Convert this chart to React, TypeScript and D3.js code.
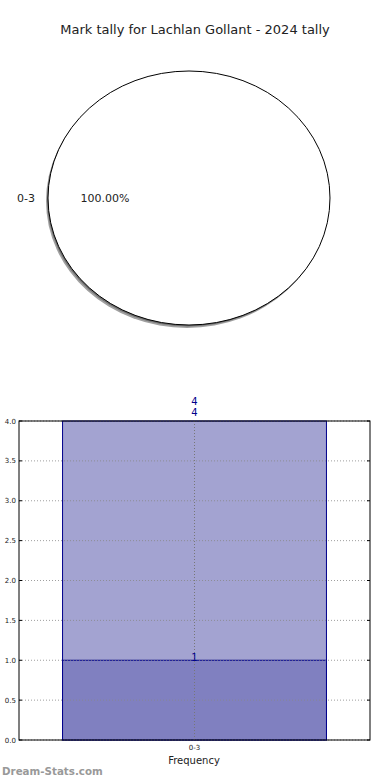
import React from "react";
import * as d3 from "d3";

const title = "Mark tally for Lachlan Gollant - 2024 tally";
const pieLabels = ["0-3"];
const pieValues = [4];
const categories = ["0-3"];
const totalValues = [4];
const innerValues = [1];
const yTicks = [0, 0.5, 1, 1.5, 2, 2.5, 3, 3.5, 4];

const W = 390, H = 780;
const FONT = "DejaVu Sans, sans-serif";

export default function App() {
  const cx = 189, cy = 198, rx = 141, ry = 127;
  const pie = d3.pie<number>().sort(null).startAngle(Math.PI / 2).endAngle(Math.PI / 2 + 2 * Math.PI)(pieValues);
  const arc = d3.arc<d3.PieArcDatum<number>>().innerRadius(0).outerRadius(1);
  const total = d3.sum(pieValues);

  const left = 19, right = 370, top = 421, bottom = 740;
  const y = d3.scaleLinear().domain([0, 4]).range([bottom, top]);
  const x = d3.scaleBand().domain(categories).range([left, right]).paddingInner(0).paddingOuter(0.165);
  const bw = x.bandwidth();

  return (
    <svg width={W} height={H} style={{ position: "absolute", left: 0, top: 0 }} fontFamily={FONT}>
      <rect width={W} height={H} fill="#fff" />
      <text x={195} y={34} textAnchor="middle" fontSize={13} fill="#222">{title}</text>

      {pie.map((d, i) => (
        <g key={"s" + i} transform={`translate(${cx - 2},${cy + 3}) scale(${rx},${ry})`}>
          <path d={arc(d) || ""} fill="#a0a0a0" />
        </g>
      ))}
      {pie.map((d, i) => (
        <g key={"s2" + i} transform={`translate(${cx - 1},${cy + 1.5}) scale(${rx},${ry})`}>
          <path d={arc(d) || ""} fill="#707070" />
        </g>
      ))}
      {pie.map((d, i) => (
        <g key={"p" + i} transform={`translate(${cx},${cy}) scale(${rx},${ry})`}>
          <path d={arc(d) || ""} fill="#fff" stroke="#000" strokeWidth={1} vectorEffect="non-scaling-stroke" />
        </g>
      ))}
      {pie.map((d, i) => (
        <g key={"l" + i}>
          <text x={35} y={202} textAnchor="end" fontSize={11} fill="#222">{pieLabels[i]}</text>
          <text x={105} y={202} textAnchor="middle" fontSize={11} fill="#222">{((d.value / total) * 100).toFixed(2)}%</text>
        </g>
      ))}

      {categories.map((c, i) => (
        <g key={"b" + i}>
          <rect x={x(c)!} y={y(totalValues[i])} width={bw} height={y(0) - y(totalValues[i])} fill="#a3a3d1" stroke="#00008b" strokeWidth={1} />
          <rect x={x(c)!} y={y(innerValues[i])} width={bw} height={y(0) - y(innerValues[i])} fill="#8080c0" stroke="#00008b" strokeWidth={1} />
        </g>
      ))}
      {yTicks.map((t) => (
        <line key={"g" + t} x1={left} x2={right} y1={y(t)} y2={y(t)} stroke="#888" strokeDasharray="1,2" strokeWidth={1} opacity={0.8} />
      ))}
      {categories.map((c) => (
        <line key={"vg" + c} x1={x(c)! + bw / 2} x2={x(c)! + bw / 2} y1={top} y2={bottom} stroke="#777" strokeDasharray="1,2" strokeWidth={1} />
      ))}
      <rect x={left} y={top} width={right - left} height={bottom - top} fill="none" stroke="#000" strokeWidth={1} />
      {yTicks.map((t) => (
        <g key={"t" + t}>
          <line x1={left} x2={left + 3} y1={y(t)} y2={y(t)} stroke="#000" />
          <line x1={right - 3} x2={right} y1={y(t)} y2={y(t)} stroke="#000" />
          <text x={16} y={y(t) + 2.5} textAnchor="end" fontSize={7} fill="#222">{t.toFixed(1)}</text>
        </g>
      ))}
      {categories.map((c, i) => (
        <g key={"xl" + i}>
          <text x={x(c)! + bw / 2} y={750} textAnchor="middle" fontSize={7} fill="#222">{c}</text>
          <text x={x(c)! + bw / 2} y={y(totalValues[i]) - 16} textAnchor="middle" fontSize={10} fill="#00008b">{totalValues[i]}</text>
          <text x={x(c)! + bw / 2} y={y(totalValues[i]) - 5} textAnchor="middle" fontSize={10} fill="#00008b">{totalValues[i]}</text>
          <text x={x(c)! + bw / 2} y={y(innerValues[i]) + 1} textAnchor="middle" fontSize={10} fill="#00008b">{innerValues[i]}</text>
        </g>
      ))}
      <text x={194} y={764} textAnchor="middle" fontSize={10} fill="#222">Frequency</text>
      <text x={2} y={775} fontSize={10.3} fontWeight="bold" fill="#999">Dream-Stats.com</text>
    </svg>
  );
}
